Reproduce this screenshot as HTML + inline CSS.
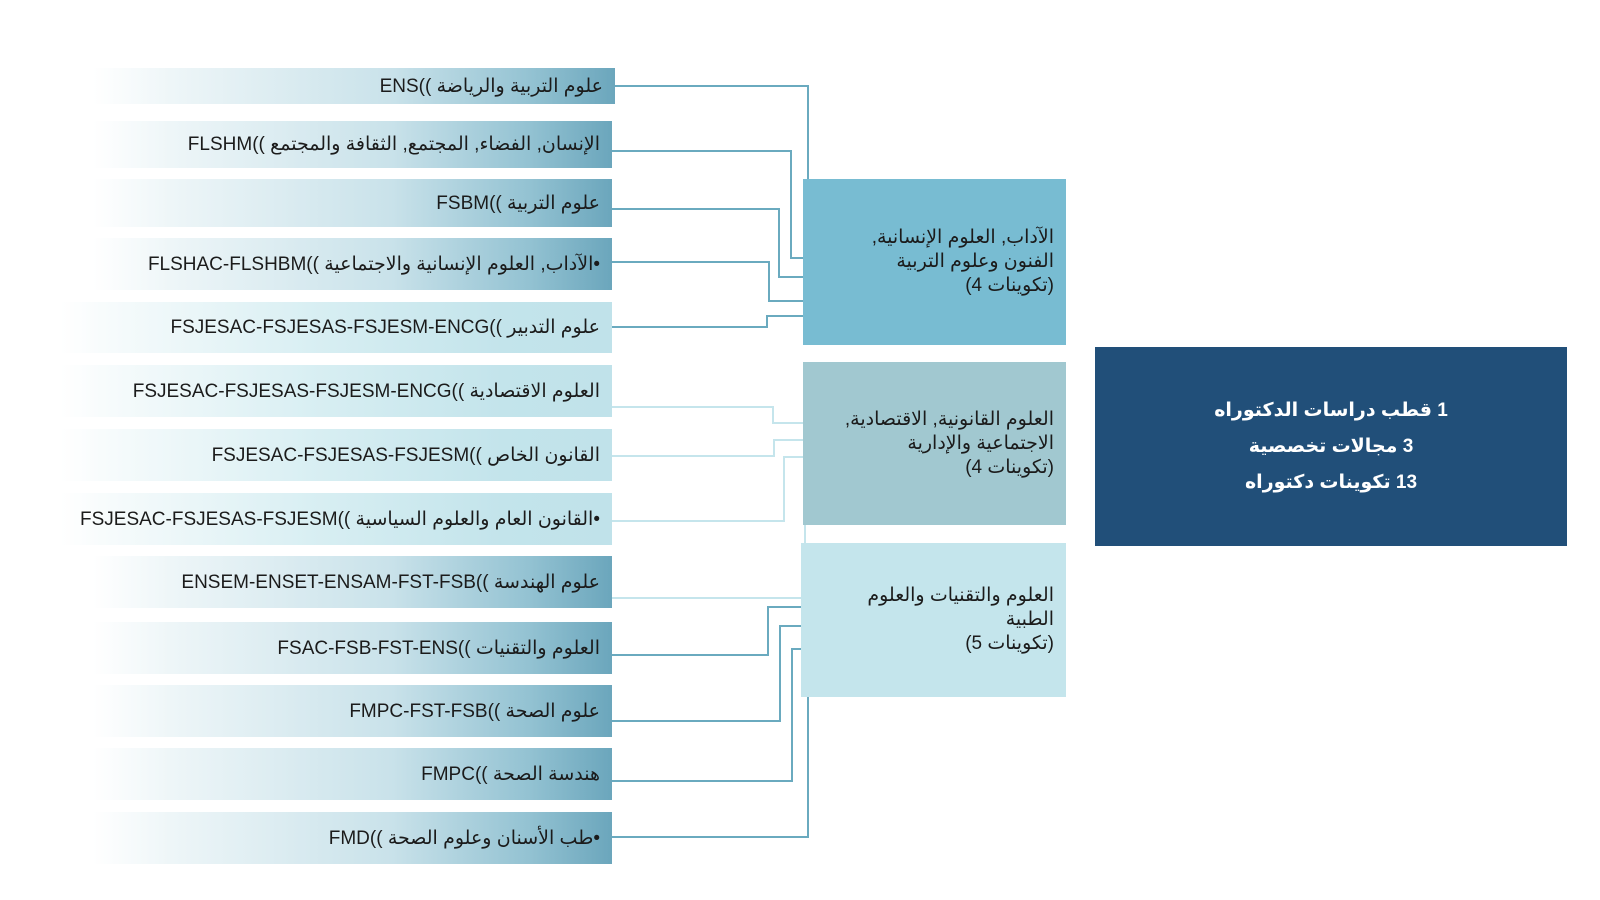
<!DOCTYPE html>
<html><head><meta charset="utf-8">
<style>
html,body{margin:0;padding:0;background:#fff;}
body{width:1600px;height:900px;position:relative;overflow:hidden;font-family:"Liberation Sans","DejaVu Sans",sans-serif;}
.bar{position:absolute;left:60px;width:552px;display:flex;align-items:center;justify-content:flex-end;box-sizing:border-box;padding-right:12px;font-size:19px;color:#1b1b1b;white-space:nowrap;}
.d{background:linear-gradient(to right,rgba(255,255,255,0) 0%,rgba(255,255,255,0) 6%,#eef6f8 20%,#c9e2ea 60%,#93c2d2 85%,#6ba6bc 100%);}
.l{background:linear-gradient(to right,rgba(255,255,255,0) 0%,#f4fafb 12%,#d9eff3 45%,#c3e4eb 80%,#c0e2ea 100%);}
.box{position:absolute;box-sizing:border-box;padding-right:12px;font-size:19px;color:#1b1b1b;display:flex;flex-direction:column;justify-content:center;align-items:flex-end;line-height:24px;}
.box div{text-align:right;white-space:nowrap;}
.box .cnt{display:flex;flex-direction:row;direction:ltr;}
.box .cnt span{display:inline-block;}
.big{position:absolute;left:1095px;top:347px;width:472px;height:199px;background:#214f79;color:#fff;font-weight:bold;font-size:19px;display:flex;flex-direction:column;justify-content:center;align-items:center;line-height:36px;}
svg{position:absolute;left:0;top:0;}
</style></head><body>
<svg width="1600" height="900">
<g fill="none" stroke="#6aaabf" stroke-width="2">
<polyline points="612,86 808,86 808,179"/>
<polyline points="612,151 791,151 791,258 803,258"/>
<polyline points="612,209 779,209 779,277 803,277"/>
<polyline points="612,262 769,262 769,301 803,301"/>
<polyline points="612,327 767,327 767,316 803,316"/>
<polyline points="612,655 768,655 768,607 801,607"/>
<polyline points="612,721 780,721 780,626 801,626"/>
<polyline points="612,781 792,781 792,649 801,649"/>
<polyline points="612,837 808,837 808,697"/>
</g>
<g fill="none" stroke="#c5e5ec" stroke-width="2">
<polyline points="612,407 773,407 773,423 803,423"/>
<polyline points="612,456 774,456 774,440 803,440"/>
<polyline points="612,521 784,521 784,457 803,457"/>
<polyline points="805,525 805,543"/>
<polyline points="612,598 801,598"/>
</g>
</svg>

<div class="bar d" style="top:68px;height:36px;width:555px;" dir="ltr">ENS(( علوم التربية والرياضة</div>
<div class="bar d" style="top:121px;height:47px;" dir="ltr">FLSHM(( الإنسان, الفضاء, المجتمع, الثقافة والمجتمع</div>
<div class="bar d" style="top:179px;height:48px;" dir="ltr">FSBM(( علوم التربية</div>
<div class="bar d" style="top:238px;height:52px;" dir="ltr">FLSHAC-FLSHBM(( الآداب, العلوم الإنسانية والاجتماعية•</div>
<div class="bar l" style="top:302px;height:51px;" dir="ltr">FSJESAC-FSJESAS-FSJESM-ENCG(( علوم التدبير</div>
<div class="bar l" style="top:365px;height:52px;" dir="ltr">FSJESAC-FSJESAS-FSJESM-ENCG(( العلوم الاقتصادية</div>
<div class="bar l" style="top:429px;height:52px;" dir="ltr">FSJESAC-FSJESAS-FSJESM(( القانون الخاص</div>
<div class="bar l" style="top:493px;height:52px;" dir="ltr">FSJESAC-FSJESAS-FSJESM(( القانون العام والعلوم السياسية•</div>
<div class="bar d" style="top:556px;height:52px;" dir="ltr">ENSEM-ENSET-ENSAM-FST-FSB(( علوم الهندسة</div>
<div class="bar d" style="top:622px;height:52px;" dir="ltr">FSAC-FSB-FST-ENS(( العلوم والتقنيات</div>
<div class="bar d" style="top:685px;height:52px;" dir="ltr">FMPC-FST-FSB(( علوم الصحة</div>
<div class="bar d" style="top:748px;height:52px;" dir="ltr">FMPC(( هندسة الصحة</div>
<div class="bar d" style="top:812px;height:52px;" dir="ltr">FMD(( طب الأسنان وعلوم الصحة•</div>

<div class="box" style="left:803px;top:179px;width:263px;height:166px;background:#78bcd2;">
<div dir="rtl">الآداب, العلوم الإنسانية,</div>
<div dir="rtl">الفنون وعلوم التربية</div>
<div class="cnt"><span>(4&nbsp;</span><span>تكوينات</span><span>)</span></div>
</div>
<div class="box" style="left:803px;top:362px;width:263px;height:163px;background:#a1c8d0;">
<div dir="rtl">العلوم القانونية, الاقتصادية,</div>
<div dir="rtl">الاجتماعية والإدارية</div>
<div class="cnt"><span>(4&nbsp;</span><span>تكوينات</span><span>)</span></div>
</div>
<div class="box" style="left:801px;top:543px;width:265px;height:154px;background:#c4e5ec;">
<div dir="rtl">العلوم والتقنيات والعلوم</div>
<div dir="rtl">الطبية</div>
<div class="cnt"><span>(5&nbsp;</span><span>تكوينات</span><span>)</span></div>
</div>

<div class="big">
<div dir="rtl">1 قطب دراسات الدكتوراه</div>
<div dir="rtl">3 مجالات تخصصية</div>
<div dir="rtl">13 تكوينات دكتوراه</div>
</div>
</body></html>
